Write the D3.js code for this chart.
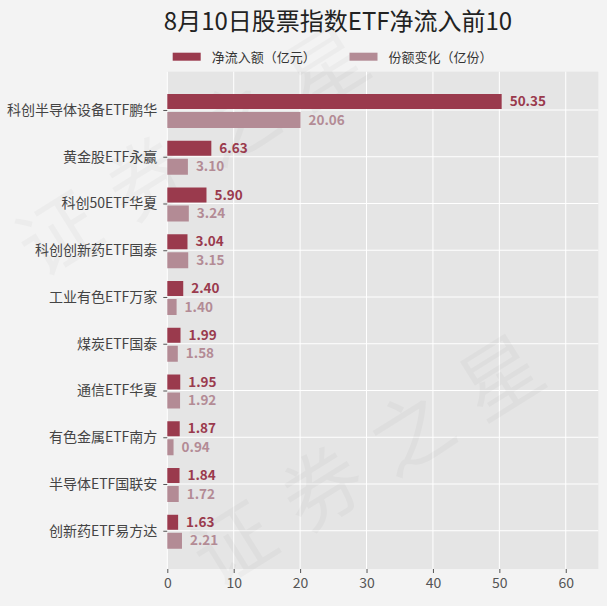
<!DOCTYPE html>
<html>
<head>
<meta charset="utf-8">
<script src="https://cdn.jsdelivr.net/npm/d3@7"></script>
<style>
  html, body { margin: 0; padding: 0; background: #f3f3f3; }
  svg { display: block; font-family: "Noto Sans CJK SC", "Noto Sans", sans-serif; }
</style>
</head>
<body>
<div id="chart"></div>
<script>
const funds = ["科创半导体设备ETF鹏华", "黄金股ETF永赢", "科创50ETF华夏", "科创创新药ETF国泰", "工业有色ETF万家",
  "煤炭ETF国泰", "通信ETF华夏", "有色金属ETF南方", "半导体ETF国联安", "创新药ETF易方达"];
const netInflow = [50.35, 6.63, 5.90, 3.04, 2.40, 1.99, 1.95, 1.87, 1.84, 1.63];
const shareChange = [20.06, 3.10, 3.24, 3.15, 1.40, 1.58, 1.92, 0.94, 1.72, 2.21];
const xTicks = [0, 10, 20, 30, 40, 50, 60];
const seriesNames = ["净流入额（亿元）", "份额变化（亿份）"];

const W = 607, H = 606;
const plot = { left: 167.3, right: 598.3, top: 71.7, bottom: 569 };
const darkColor = "#9a3a4d", lightColor = "#b38b95";

const svg = d3.select("#chart").append("svg")
  .attr("width", W).attr("height", H);

svg.append("rect").attr("width", W).attr("height", H).attr("fill", "#f3f3f3");

const x = d3.scaleLinear().domain([0, 64.9]).range([plot.left, plot.right]);
const y = d3.scaleLinear().domain([-0.819, 9.818]).range([plot.top, plot.bottom]);

// plot background
svg.append("rect")
  .attr("x", plot.left).attr("y", plot.top)
  .attr("width", plot.right - plot.left).attr("height", plot.bottom - plot.top)
  .attr("fill", "#e5e5e5");

// grid
svg.append("g").selectAll("line").data(xTicks).enter().append("line")
  .attr("x1", d => x(d)).attr("x2", d => x(d))
  .attr("y1", plot.top).attr("y2", plot.bottom)
  .attr("stroke", "#fff").attr("stroke-width", 1);
svg.append("g").selectAll("line").data(funds).enter().append("line")
  .attr("x1", plot.left).attr("x2", plot.right)
  .attr("y1", (d, i) => y(i)).attr("y2", (d, i) => y(i))
  .attr("stroke", "#fff").attr("stroke-width", 1);

// watermark
const wm = svg.append("g").attr("fill", "#000").attr("fill-opacity", 0.028)
  .attr("font-size", 80).attr("font-family", "Noto Sans CJK SC");
[[40, 280], [215, 590]].forEach(p => {
  wm.append("text").attr("transform", `translate(${p[0]},${p[1]}) rotate(-32)`)
    .attr("letter-spacing", 25).text("证券之星");
});

// bars
const darkTop = -0.342, darkBot = -0.021, lightTop = 0.043, lightBot = 0.385;
svg.append("g").selectAll("rect").data(netInflow).enter().append("rect")
  .attr("x", x(0)).attr("y", (d, i) => y(i + darkTop))
  .attr("width", d => x(d) - x(0)).attr("height", y(darkBot) - y(darkTop))
  .attr("fill", darkColor);
svg.append("g").selectAll("rect").data(shareChange).enter().append("rect")
  .attr("x", x(0)).attr("y", (d, i) => y(i + lightTop))
  .attr("width", d => x(d) - x(0)).attr("height", y(lightBot) - y(lightTop))
  .attr("fill", lightColor);

// value labels
svg.append("g").selectAll("text").data(netInflow).enter().append("text")
  .attr("x", d => x(d) + 8).attr("y", (d, i) => y(i + (darkTop + darkBot) / 2))
  .attr("dy", "0.35em").attr("font-size", 13.5).attr("font-weight", "bold")
  .attr("fill", darkColor).text(d => d.toFixed(2));
svg.append("g").selectAll("text").data(shareChange).enter().append("text")
  .attr("x", d => x(d) + 8).attr("y", (d, i) => y(i + (lightTop + lightBot) / 2))
  .attr("dy", "0.35em").attr("font-size", 13.5).attr("font-weight", "bold")
  .attr("fill", lightColor).text(d => d.toFixed(2));

// axes
const xAxis = svg.append("g").attr("transform", `translate(0,${plot.bottom})`)
  .call(d3.axisBottom(x).tickValues(xTicks).tickSize(4).tickPadding(5));
xAxis.select(".domain").remove();
xAxis.selectAll("line").attr("stroke", "#555");
xAxis.selectAll("text").attr("font-size", 14).attr("fill", "#555")
  .attr("font-family", "Noto Sans CJK SC");

const yAxis = svg.append("g").attr("transform", `translate(${plot.left},0)`)
  .call(d3.axisLeft(y).tickValues(d3.range(funds.length)).tickFormat(i => funds[i]).tickSize(4).tickPadding(6));
yAxis.select(".domain").remove();
yAxis.selectAll("line").attr("stroke", "#555");
yAxis.selectAll("text").attr("font-size", 14).attr("fill", "#444")
  .attr("font-family", "Noto Sans CJK SC");

// title
svg.append("text").attr("x", 338).attr("y", 30)
  .attr("text-anchor", "middle").attr("font-size", 24).attr("fill", "#222")
  .text("8月10日股票指数ETF净流入前10");

// legend
const legend = svg.append("g");
[[172.7, darkColor], [349.5, lightColor]].forEach((p, i) => {
  legend.append("rect").attr("x", p[0]).attr("y", 52.7).attr("width", 28).attr("height", 8).attr("fill", p[1]);
  legend.append("text").attr("x", p[0] + 39).attr("y", 57).attr("dy", "0.35em")
    .attr("font-size", 13).attr("fill", "#333").text(seriesNames[i]);
});
</script>
</body>
</html>
